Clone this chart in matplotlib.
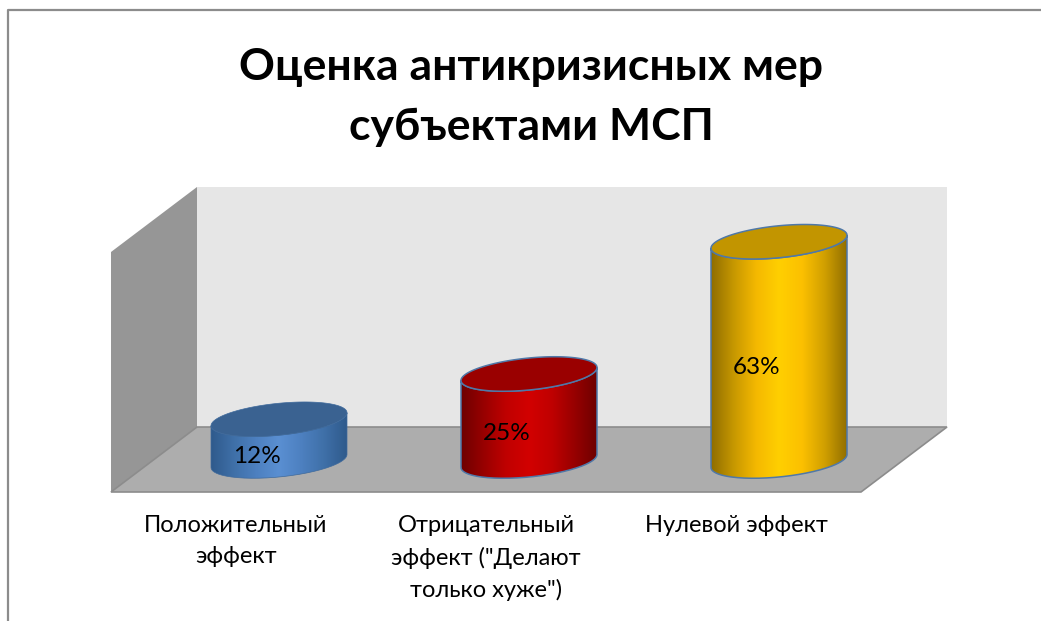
import numpy as np
import matplotlib
matplotlib.use("Agg")
import matplotlib.pyplot as plt
from matplotlib.colors import LinearSegmentedColormap
from matplotlib.patches import PathPatch, Polygon
from matplotlib.path import Path

plt.rcParams['font.family'] = ['Lato', 'Open Sans', 'DejaVu Sans']

# ===================== Data =====================
categories = ['Положительный\nэффект', 'Отрицательный\nэффект ("Делают\nтолько хуже")', 'Нулевой эффект']
values = [12, 25, 63]
labels = ['12%', '25%', '63%']
title = 'Оценка антикризисных мер\nсубъектами МСП'

side_colors = [
    ['#2f5a8c', '#3f70a8', '#4d80c0', '#5a8fd2', '#4d80c0', '#3f70a8', '#2f5a8c'],
    ['#6e0000', '#980000', '#c00000', '#d20000', '#c00000', '#980000', '#6e0000'],
    ['#8f6d00', '#c79800', '#f5b900', '#ffcf00', '#fcc000', '#d09f00', '#8f6d00'],
]
top_colors = ['#3a6291', '#9a0000', '#c29500']
edge_colors = ['#3f6a9c', '#4f78a8', '#4f78a8']
edge_widths = [0.5, 1.1, 1.1]

W, H = 1041, 621
PX_PER_CAT = 250.0
PX_PER_UNIT = 3.48
X0 = 279.0   # pixel of first category
Y0 = 461.0   # pixel of value 0
HALF_W = 68 / PX_PER_CAT
SHEAR = 6.5 / PX_PER_UNIT
MINOR = 16.0 / PX_PER_UNIT

fig = plt.figure(figsize=(W / 100, H / 100), dpi=100, facecolor='white')

# ===================== Room (pixel coords) =====================
bg = fig.add_axes([0, 0, 1, 1], zorder=0)
bg.set_xlim(0, W)
bg.set_ylim(H, 0)
bg.axis('off')
bg.plot([8, 8, 1041], [621, 10, 10], color='#8c8c8c', lw=1.6)
bg.add_patch(Polygon([(197, 187), (947, 187), (947, 427), (197, 427)], fc='#e6e6e6', ec='none'))
bg.add_patch(Polygon([(111, 252), (197, 187), (197, 427), (111, 492)], fc='#969696', ec='none'))
bg.add_patch(Polygon([(197, 427), (947, 427), (861, 492), (111, 492)], fc='#adadad', ec='#8c8c8c', lw=1.2))
bg.text(531, 97, title, ha='center', va='center', fontsize=32, fontweight='bold', color='black', linespacing=1.6)

# ===================== Cylinders (category / value coords) =====================
ax = fig.add_axes([0, 0, 1, 1], zorder=1)
ax.patch.set_alpha(0)
ax.axis('off')


def rim(cx, cy, t):
    return cx + HALF_W * np.cos(t), cy + SHEAR * np.cos(t) + MINOR * np.sin(t)


for i, v in enumerate(values):
    # body outline: front of base, right side, front of top, left side
    bx, by = rim(i, 0, np.linspace(np.pi, 2 * np.pi, 80))
    tx, ty = rim(i, v, np.linspace(2 * np.pi, np.pi, 80))
    body = Path(np.column_stack([np.r_[bx, tx, bx[0]], np.r_[by, ty, by[0]]]))

    cmap = LinearSegmentedColormap.from_list('side', side_colors[i])
    grad = np.linspace(0, 1, 256).reshape(1, -1)
    im = ax.imshow(grad, cmap=cmap, aspect='auto', zorder=2,
                   extent=[i - HALF_W, i + HALF_W, -10, v + 10])
    clip = PathPatch(body, fc='none', ec='none', transform=ax.transData)
    ax.add_patch(clip)
    im.set_clip_path(clip)
    ax.add_patch(PathPatch(body, fc='none', ec=edge_colors[i], lw=edge_widths[i], zorder=3))

    cx, cy = rim(i, v, np.linspace(0, 2 * np.pi, 160))
    ax.fill(cx, cy, fc=top_colors[i], ec=edge_colors[i], lw=edge_widths[i], zorder=4)

    ax.text(i - 0.09, v / 2 - 4.7, labels[i], ha='center', va='center', fontsize=17.5, zorder=5)

ax.set_xlim(-X0 / PX_PER_CAT, (W - X0) / PX_PER_CAT)
ax.set_ylim(-(H - Y0) / PX_PER_UNIT, Y0 / PX_PER_UNIT)

for i, c in enumerate(categories):
    bg.text(X0 + i * PX_PER_CAT - 43, 515, c, ha='center', va='top', fontsize=17, linespacing=1.58, color='black')

fig.savefig('out.png', dpi=100)
